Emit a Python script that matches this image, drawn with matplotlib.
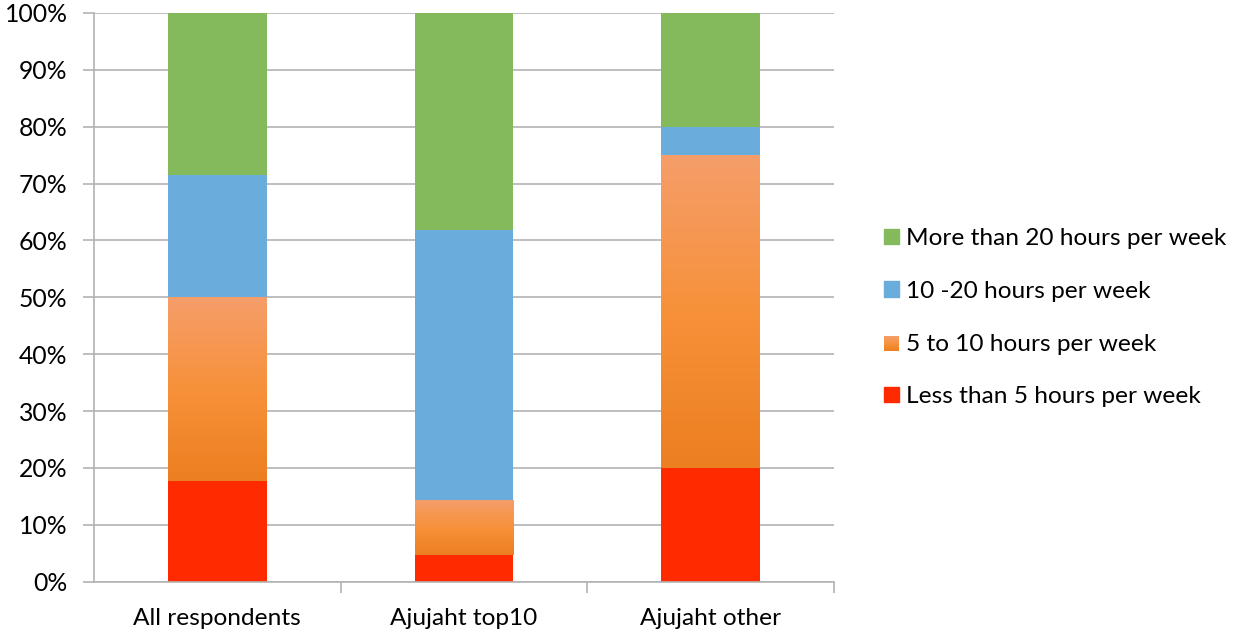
import numpy as np
import matplotlib.pyplot as plt
from matplotlib.colors import LinearSegmentedColormap
from matplotlib.legend_handler import HandlerBase
from matplotlib.patches import Rectangle
from matplotlib.ticker import FuncFormatter, FixedLocator

plt.rcParams['font.family'] = ['Lato', 'DejaVu Sans']

groups = ['All respondents', 'Ajujaht top10', 'Ajujaht other']
series = ['Less than 5 hours per week', '5 to 10 hours per week',
          '10 -20 hours per week', 'More than 20 hours per week']
less_5 = [17.7, 4.76, 20.0]
h5_10 = [32.3, 9.52, 55.0]
h10_20 = [21.5, 47.62, 5.0]
more_20 = [28.5, 38.1, 20.0]

red = '#ff2a00'
blue = '#6aacdc'
green = '#84ba5b'
orange_grad = LinearSegmentedColormap.from_list(
    'og', ['#ec7f20', '#f7913a', '#f59e6a'])

fig = plt.figure(figsize=(12.44, 6.34), dpi=100)
ax = fig.add_axes([0.0756, 0.0825, 0.5948, 0.897])

x = np.arange(len(groups))
w = 0.4
bottom = np.zeros(len(groups))

ax.bar(x, less_5, w, bottom=bottom, color=red, zorder=2)
bottom += less_5
obars = ax.bar(x, h5_10, w, bottom=bottom, color='none', zorder=2)
grad = np.linspace(0, 1, 256).reshape(-1, 1)
for b in obars:
    x0, y0 = b.get_x(), b.get_y()
    im = ax.imshow(grad, cmap=orange_grad, origin='lower', aspect='auto',
                   extent=[x0, x0 + b.get_width(), y0, y0 + b.get_height()],
                   zorder=2)
    im.set_clip_path(b)
bottom += h5_10
ax.bar(x, h10_20, w, bottom=bottom, color=blue, zorder=2)
bottom += h10_20
ax.bar(x, more_20, w, bottom=bottom, color=green, zorder=2)

ax.set_xlim(-0.5, 2.5)
ax.set_ylim(0, 100)
ax.set_yticks(np.arange(0, 101, 10))
ax.yaxis.set_major_formatter(FuncFormatter(lambda v, p: f'{v:.0f}%'))
ax.yaxis.grid(True, color='#b3b3b3', linewidth=1.2, zorder=0)
ax.set_axisbelow(True)

ax.set_xticks(x)
ax.set_xticklabels(groups)
ax.tick_params(axis='x', length=0, labelsize=17.6, pad=19)
ax.xaxis.set_minor_locator(FixedLocator([0.5, 1.5, 2.5]))
ax.tick_params(axis='x', which='minor', length=8, color='#b3b3b3', width=1.2)
ax.tick_params(axis='y', length=8, color='#b3b3b3', width=1.2, labelsize=17.8, pad=11)

for s in ['top', 'right']:
    ax.spines[s].set_visible(False)
for s in ['left', 'bottom']:
    ax.spines[s].set_color('#b3b3b3')
    ax.spines[s].set_linewidth(1.2)


class GradHandler(HandlerBase):
    def create_artists(self, legend, orig, xd, yd, width, height, fontsize, trans):
        n = 20
        arts = []
        for i in range(n):
            r = Rectangle((xd, yd + height * i / n), width, height / n,
                          facecolor=orange_grad(i / (n - 1)), edgecolor='none',
                          transform=trans)
            arts.append(r)
        return arts


handles = [Rectangle((0, 0), 1, 1, color=green),
           Rectangle((0, 0), 1, 1, color=blue),
           Rectangle((0, 0), 1, 1, color='orange'),
           Rectangle((0, 0), 1, 1, color=red)]
labels = series[::-1]
fig.legend(handles, labels, loc='center left', bbox_to_anchor=(0.693, 0.499),
           frameon=False, fontsize=17.6, handlelength=0.6, handleheight=0.6,
           handletextpad=0.3, labelspacing=1.3,
           handler_map={handles[2]: GradHandler()})

fig.savefig('out.png', dpi=100)
